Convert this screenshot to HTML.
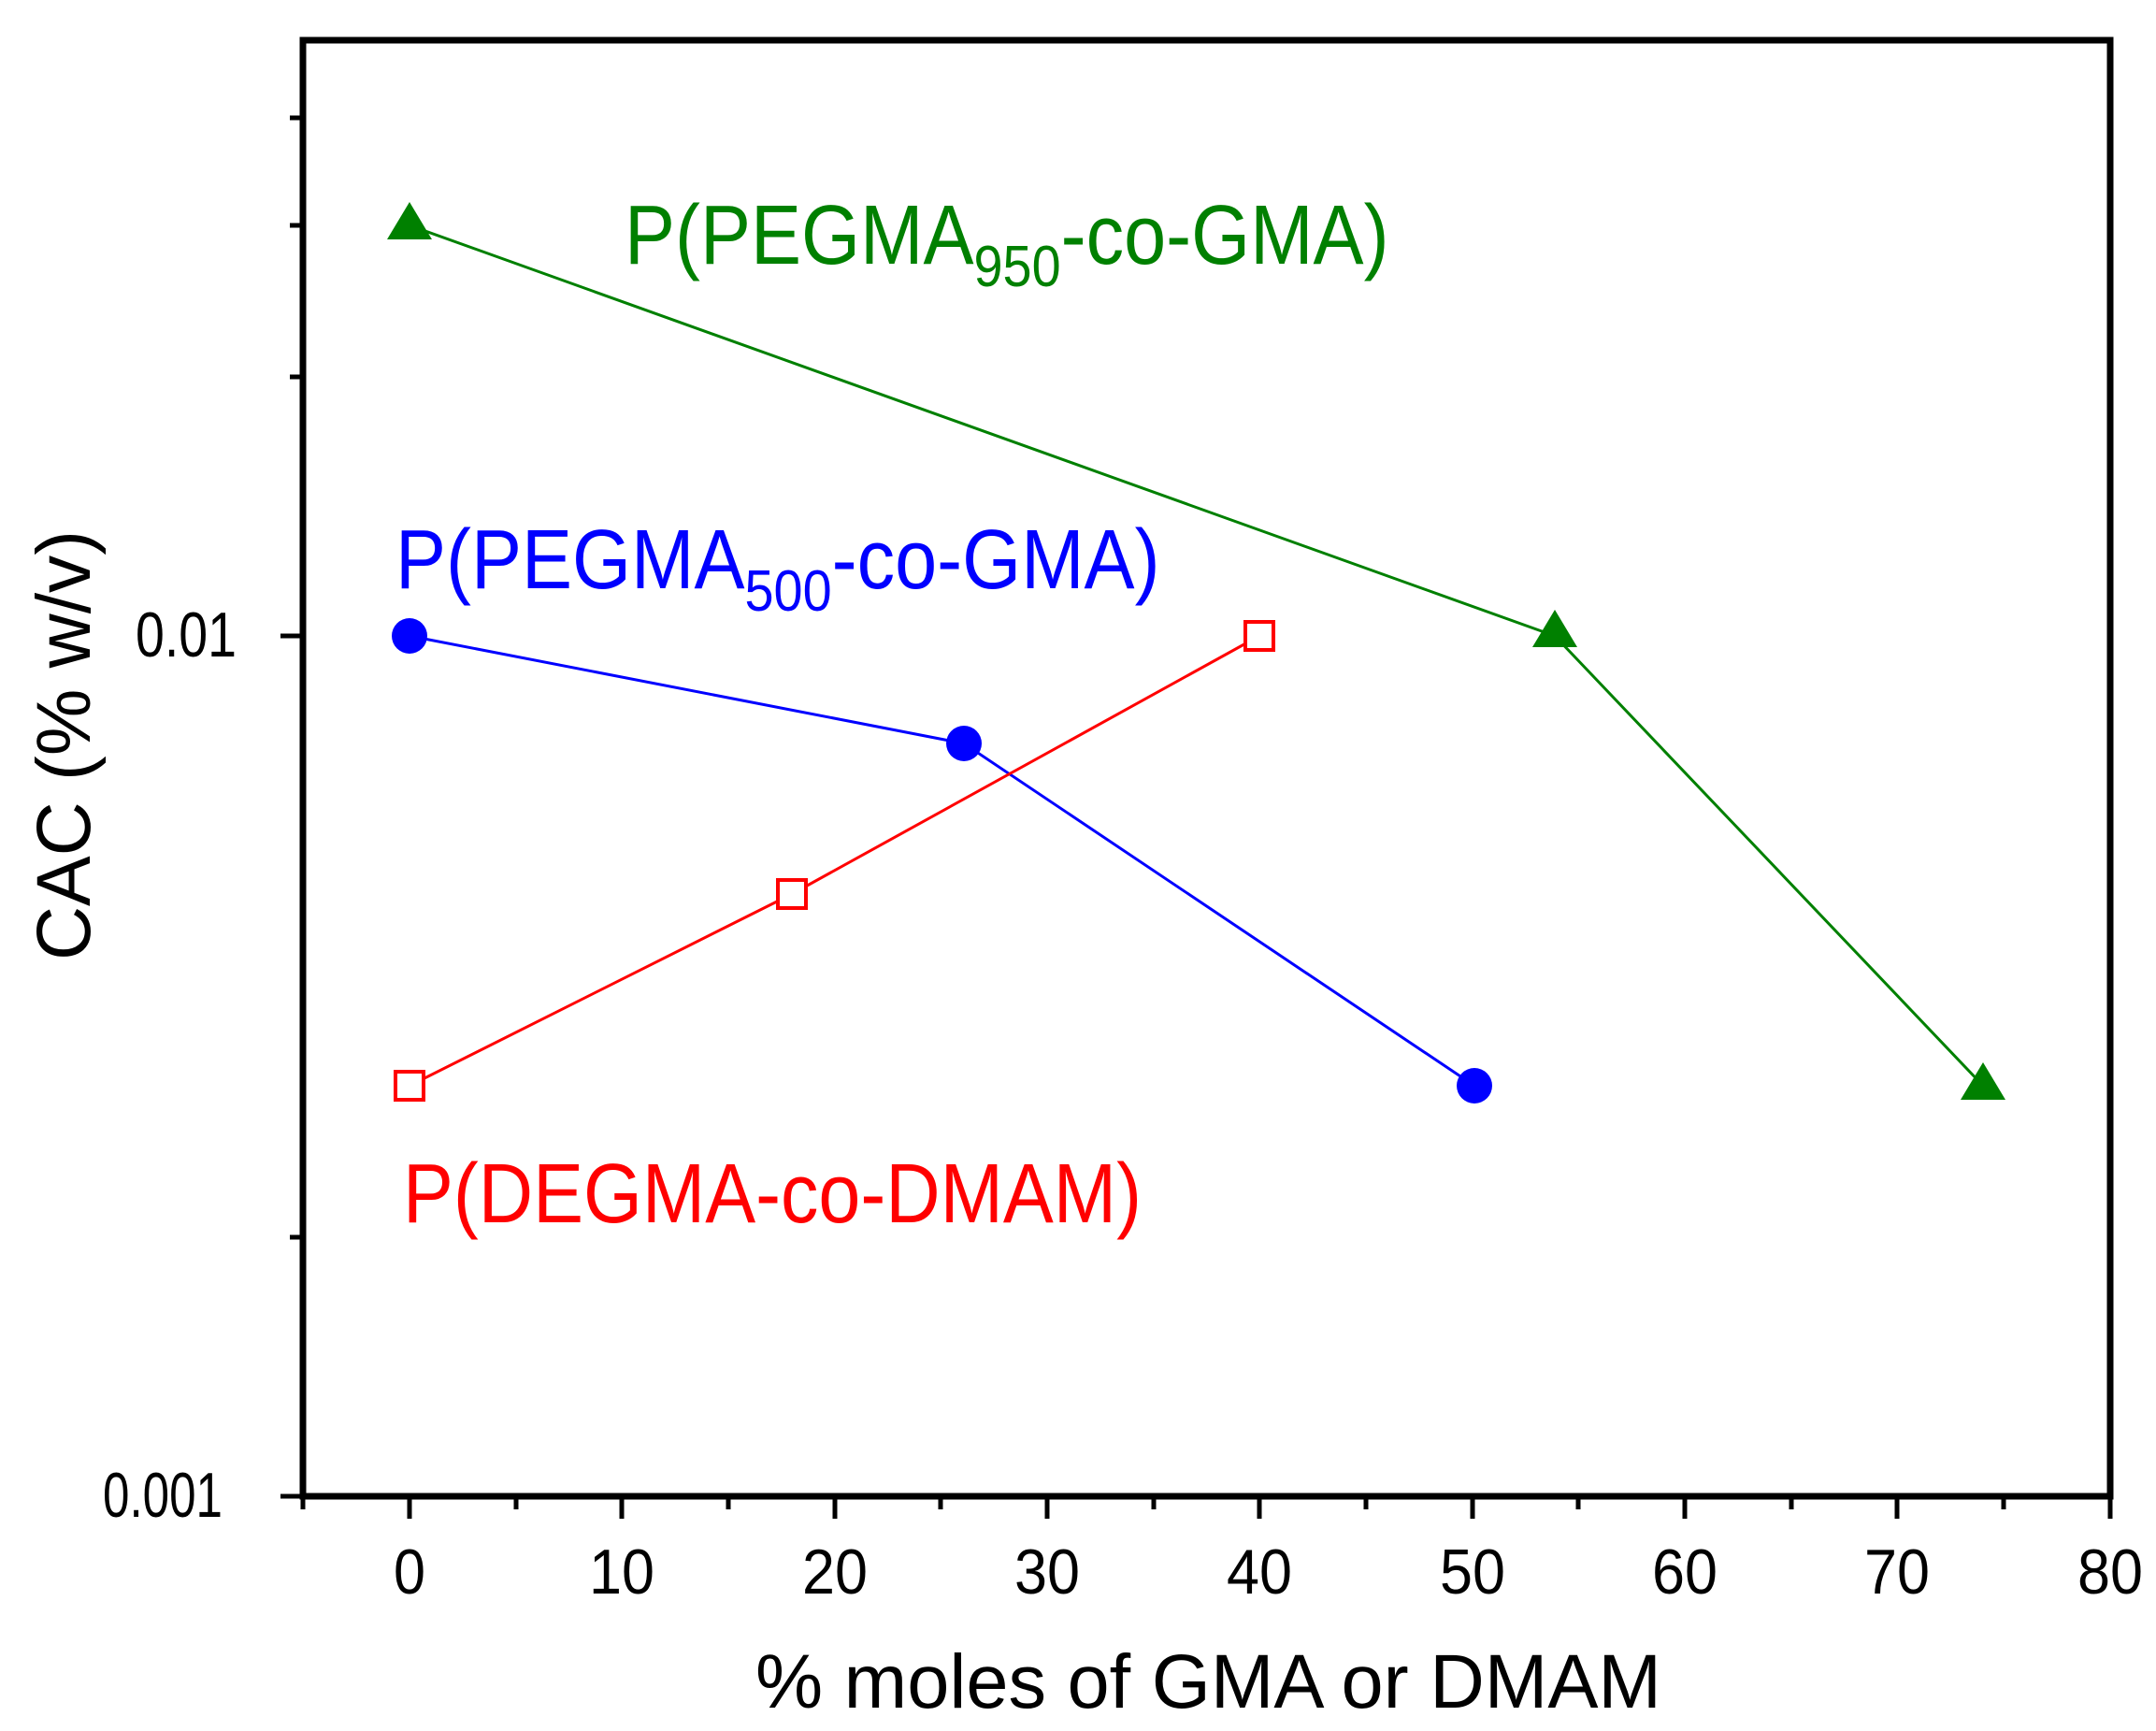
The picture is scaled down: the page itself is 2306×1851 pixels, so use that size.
<!DOCTYPE html>
<html><head><meta charset="utf-8"><style>
html,body{margin:0;padding:0;background:#fff;}
svg{display:block;}
text{font-family:"Liberation Sans",Arial,sans-serif;}
</style></head><body>
<svg width="2306" height="1851" viewBox="0 0 2306 1851" xmlns="http://www.w3.org/2000/svg">
<rect width="2306" height="1851" fill="#fff"/>
<rect x="324" y="43" width="1933" height="1557" fill="none" stroke="#000" stroke-width="7"/>
<g stroke="#000" stroke-width="5">
<line x1="324" y1="1600" x2="324" y2="1614"/>
<line x1="438" y1="1600" x2="438" y2="1624"/>
<line x1="552" y1="1600" x2="552" y2="1614"/>
<line x1="665" y1="1600" x2="665" y2="1624"/>
<line x1="779" y1="1600" x2="779" y2="1614"/>
<line x1="893" y1="1600" x2="893" y2="1624"/>
<line x1="1006" y1="1600" x2="1006" y2="1614"/>
<line x1="1120" y1="1600" x2="1120" y2="1624"/>
<line x1="1234" y1="1600" x2="1234" y2="1614"/>
<line x1="1347" y1="1600" x2="1347" y2="1624"/>
<line x1="1461" y1="1600" x2="1461" y2="1614"/>
<line x1="1575" y1="1600" x2="1575" y2="1624"/>
<line x1="1688" y1="1600" x2="1688" y2="1614"/>
<line x1="1802" y1="1600" x2="1802" y2="1624"/>
<line x1="1916" y1="1600" x2="1916" y2="1614"/>
<line x1="2029" y1="1600" x2="2029" y2="1624"/>
<line x1="2143" y1="1600" x2="2143" y2="1614"/>
<line x1="2257" y1="1600" x2="2257" y2="1624"/>
<line x1="324" y1="1600" x2="300" y2="1600"/>
<line x1="324" y1="680" x2="300" y2="680"/>
<line x1="324" y1="1323" x2="310" y2="1323"/>
<line x1="324" y1="403" x2="310" y2="403"/>
<line x1="324" y1="241" x2="310" y2="241"/>
<line x1="324" y1="126" x2="310" y2="126"/>
</g>
<g font-size="68" fill="#000" text-anchor="middle">
<text x="438" y="1704" textLength="34" lengthAdjust="spacingAndGlyphs">0</text>
<text x="665" y="1704" textLength="70" lengthAdjust="spacingAndGlyphs">10</text>
<text x="893" y="1704" textLength="70" lengthAdjust="spacingAndGlyphs">20</text>
<text x="1120" y="1704" textLength="70" lengthAdjust="spacingAndGlyphs">30</text>
<text x="1347" y="1704" textLength="70" lengthAdjust="spacingAndGlyphs">40</text>
<text x="1575" y="1704" textLength="70" lengthAdjust="spacingAndGlyphs">50</text>
<text x="1802" y="1704" textLength="70" lengthAdjust="spacingAndGlyphs">60</text>
<text x="2029" y="1704" textLength="70" lengthAdjust="spacingAndGlyphs">70</text>
<text x="2257" y="1704" textLength="70" lengthAdjust="spacingAndGlyphs">80</text>
</g>
<g font-size="68" fill="#000">
<text x="145" y="702" textLength="108" lengthAdjust="spacingAndGlyphs">0.01</text>
<text x="110" y="1622" textLength="128" lengthAdjust="spacingAndGlyphs">0.001</text>
</g>
<text x="808" y="1826" font-size="82" textLength="969" lengthAdjust="spacingAndGlyphs">% moles of GMA or DMAM</text>
<text transform="translate(96,797) rotate(-90)" font-size="82" text-anchor="middle" textLength="460" lengthAdjust="spacingAndGlyphs">CAC (% w/v)</text>
<polyline points="438,241 1663,680 2121,1161" fill="none" stroke="#008000" stroke-width="3"/>
<polyline points="438,680 1031,795 1577,1161" fill="none" stroke="#0000ff" stroke-width="3"/>
<polyline points="438,1161 847,956 1347,680" fill="none" stroke="#ff0000" stroke-width="3"/>
<g fill="#008000">
<polygon points="438,216 414,256 462,256"/>
<polygon points="1663,652 1639,692 1687,692"/>
<polygon points="2121,1136 2097,1176 2145,1176"/>
</g>
<g fill="#0000ff">
<circle cx="438" cy="680" r="19"/>
<circle cx="1031" cy="795" r="19"/>
<circle cx="1577" cy="1161" r="19"/>
</g>
<g fill="#fff" stroke="#ff0000" stroke-width="4">
<rect x="423" y="1146" width="30" height="30"/>
<rect x="832" y="941" width="30" height="30"/>
<rect x="1332" y="665" width="30" height="30"/>
</g>
<text transform="translate(668,282) scale(0.9,1)" font-size="90" fill="#008000">P(PEGMA<tspan font-size="62" dy="24">950</tspan><tspan dy="-24">-co-GMA)</tspan></text>
<text transform="translate(423,629) scale(0.9,1)" font-size="90" fill="#0000ff">P(PEGMA<tspan font-size="62" dy="24">500</tspan><tspan dy="-24">-co-GMA)</tspan></text>
<text x="431" y="1307" font-size="90" fill="#ff0000" textLength="790" lengthAdjust="spacingAndGlyphs">P(DEGMA-co-DMAM)</text>
</svg>
</body></html>
